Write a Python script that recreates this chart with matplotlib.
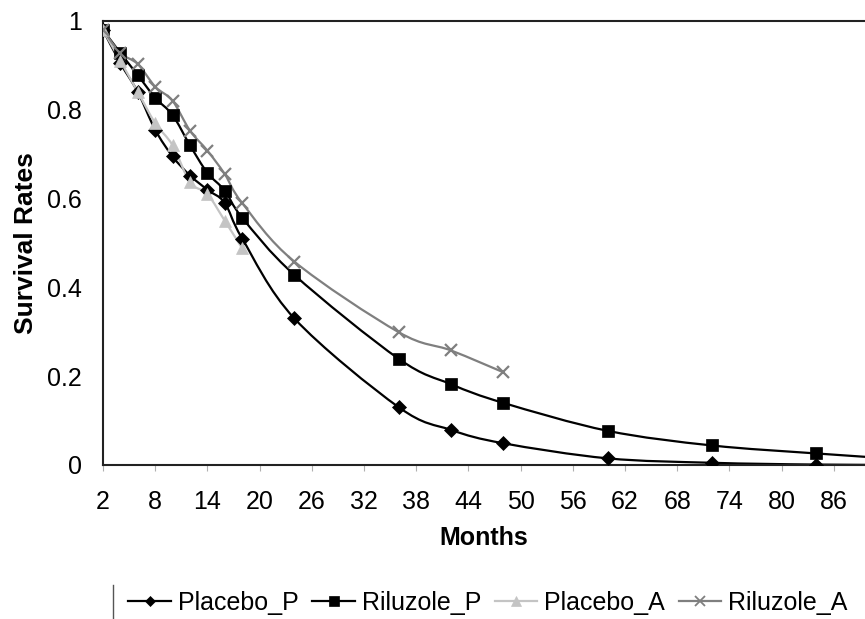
import numpy as np
import matplotlib
matplotlib.use("Agg")
import matplotlib.pyplot as plt
from matplotlib.path import Path
from matplotlib.patches import PathPatch
from matplotlib.lines import Line2D

plt.rcParams['font.family'] = ['Liberation Sans', 'DejaVu Sans']

# survival rates (month 96 point lies past the right edge)
months_p = [2, 4, 6, 8, 10, 12, 14, 16, 18, 24, 36, 42, 48, 60, 72, 84, 96]
placebo_p = [0.98, 0.905, 0.84, 0.755, 0.695, 0.652, 0.62, 0.59, 0.51, 0.33, 0.13, 0.079, 0.049, 0.015, 0.005, 0.001, 0.0]
riluzole_p = [0.98, 0.928, 0.878, 0.827, 0.788, 0.72, 0.658, 0.618, 0.557, 0.428, 0.239, 0.182, 0.14, 0.077, 0.044, 0.026, 0.01]

months_pa = [2, 4, 6, 8, 10, 12, 14, 16, 18]
placebo_a = [0.98, 0.91, 0.84, 0.77, 0.72, 0.637, 0.61, 0.55, 0.488]

months_ra = [2, 4, 6, 8, 10, 12, 14, 16, 18, 24, 36, 42, 48]
riluzole_a = [0.98, 0.928, 0.903, 0.852, 0.82, 0.753, 0.708, 0.655, 0.59, 0.458, 0.299, 0.258, 0.209]

xticks = list(range(2, 87, 6))
yticks = [0, 0.2, 0.4, 0.6, 0.8, 1]


def smooth_path(x, y):
    # excel-style smoothed line: cubic bezier through each point
    pts = np.column_stack([x, y]).astype(float)
    n = len(pts)
    verts = [pts[0]]
    codes = [Path.MOVETO]
    for i in range(n - 1):
        p0 = pts[i - 1] if i > 0 else pts[i]
        p1 = pts[i]
        p2 = pts[i + 1]
        p3 = pts[i + 2] if i + 2 < n else pts[i + 1]
        c1 = p1 + (p2 - p0) / 6.0
        c2 = p2 - (p3 - p1) / 6.0
        verts += [c1, c2, p2]
        codes += [Path.CURVE4] * 3
    return Path(verts, codes)


fig = plt.figure(figsize=(8.65, 6.19), dpi=100)
ax = fig.add_axes([103 / 865, 1 - 465 / 619, 1 - 103 / 865, (465 - 21) / 619])

series = [
    (months_p, placebo_p, 'Placebo_P', 'black', 'D', 7, 'black'),
    (months_p, riluzole_p, 'Riluzole_P', 'black', 's', 9, 'black'),
    (months_pa, placebo_a, 'Placebo_A', '#c4c4c4', '^', 9, '#c4c4c4'),
    (months_ra, riluzole_a, 'Riluzole_A', '#7f7f7f', 'x', 9, '#7f7f7f'),
]

handles = []
for x, y, name, col, mk, ms, mcol in series:
    ax.add_patch(PathPatch(smooth_path(x, y), fill=False, edgecolor=col, lw=1.6, zorder=2))
    ax.plot(x, y, linestyle='none', marker=mk, markersize=ms, color=mcol,
            markeredgewidth=1.6 if mk == 'x' else 0.5, zorder=3)
    handles.append(Line2D([], [], color=col, lw=1.6, marker=mk, markersize=ms * 0.75,
                          markeredgewidth=1.3 if mk == 'x' else 0.5, label=name))

ax.set_xlim(2, 2 + (865 - 103) / 8.7)
ax.set_ylim(0, 1)
ax.set_xticks(xticks)
ax.set_xticklabels([str(t) for t in xticks])
ax.set_yticks(yticks)
ax.set_yticklabels(['0', '0.2', '0.4', '0.6', '0.8', '1'])
ax.tick_params(axis='x', length=4, width=0.8, color='#b0b0b0', pad=14, labelsize=18)
ax.tick_params(axis='y', length=0, pad=15, labelsize=18)

for side in ['left', 'top', 'bottom']:
    ax.spines[side].set_linewidth(1.5)
    ax.spines[side].set_color('#222222')
ax.spines['right'].set_visible(False)

ax.set_xlabel('Months', fontsize=18, fontweight='bold', labelpad=8.5)
ax.set_ylabel('Survival Rates', fontsize=19, fontweight='bold', labelpad=7)

fig.legend(handles=handles, loc='center', ncol=4, bbox_to_anchor=(488 / 865, 1 - 603 / 619),
           frameon=False, fontsize=18, handlelength=1.7, handletextpad=0.28,
           columnspacing=0.55)
fig.add_artist(Line2D([113 / 865, 113 / 865], [0, 1 - 585 / 619], color='#555555', lw=1.0))

fig.savefig('out.png', dpi=100)
